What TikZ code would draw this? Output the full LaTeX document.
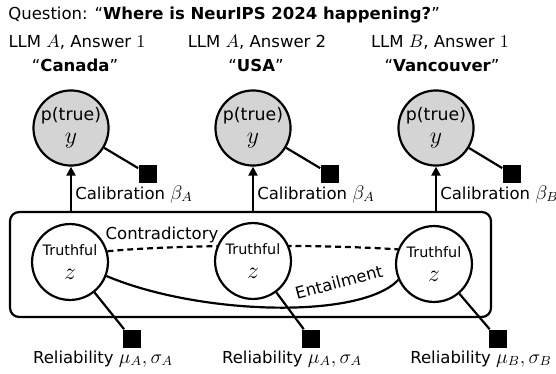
\documentclass[tikz,border=0pt]{standalone}
\usepackage[no-math]{fontspec}
\setmainfont{DejaVu Sans}
\usetikzlibrary{arrows.meta,backgrounds}
% math set a little larger than the surrounding sans text
\newcommand\mthsz[2]{{\fontsize{#1}{#1}\selectfont$#2$}}
\begin{document}
% one coordinate unit = 0.60606pt, so 10pt text is 16.5 units tall
\begin{tikzpicture}[x=0.60606pt,y=-0.60606pt,
  lbl/.style={font=\fontsize{10}{11.5}\selectfont, inner sep=0pt},
  obsnode/.style={circle, draw, line width=1.33pt, fill=black!17, minimum size=45.5pt,
    inner sep=0pt, align=center, font=\fontsize{10.5}{14}\selectfont},
  latnode/.style={circle, draw, line width=1.33pt, fill=white, minimum size=46pt,
    inner sep=0pt, align=center, font=\fontsize{8.7}{14.2}\selectfont},
  factor/.style={rectangle, fill=black, minimum size=11.5pt, inner sep=0pt},
  link/.style={line width=1.33pt},
  arr/.style={line width=1.33pt, -{Triangle[width=5.5pt,length=5.5pt]}},
  dashlink/.style={line width=1.33pt, dash pattern=on 3.6pt off 2.4pt},
]
\useasboundingbox (0,0) rectangle (556,373);

% question
\node[lbl, anchor=base west] (question) at (8,19)
  {Question: “\textbf{Where is NeurIPS 2024 happening?}”};

% answer headers
\node[lbl, anchor=base] (h1) at (77,47) {LLM \mthsz{10.95}{A}, Answer \mthsz{10.95}{1}};
\node[lbl, anchor=base] (q1) at (75,71) {“\textbf{Canada}”};
\node[lbl, anchor=base] (h2) at (257,47) {LLM \mthsz{10.95}{A}, Answer 2};
\node[lbl, anchor=base] (q2) at (256,71) {“\textbf{USA}”};
\node[lbl, anchor=base] (h3) at (440,47) {LLM \mthsz{10.95}{B}, Answer \mthsz{10.95}{1}};
\node[lbl, anchor=base] (q3) at (442,71) {“\textbf{Vancouver}”};

% observed nodes
\node[obsnode] (y1) at (71,128) {p(true)\\\mthsz{14.4}{y}};
\node[obsnode] (y2) at (253,128) {p(true)\\\mthsz{14.4}{y}};
\node[obsnode] (y3) at (436,128) {p(true)\\\mthsz{14.4}{y}};

\node[factor] (fy1) at (148,174) {};
\node[factor] (fy2) at (330,174) {};
\node[factor] (fy3) at (512,174) {};

% plate around the latent nodes
\node[draw, line width=1.33pt, rounded corners=5.5pt, minimum width=291.5pt,
  minimum height=63.6pt, inner sep=0pt] (plate) at (250.5,264.5) {};

% latent nodes
\node[latnode] (z1) at (70,262) {Truthful\\\mthsz{14.4}{z}};
\node[latnode] (z2) at (253,261) {Truthful\\\mthsz{14.4}{z}};
\node[latnode] (z3) at (434,264) {Truthful\\\mthsz{14.4}{z}};

\node[factor] (fz1) at (132,339) {};
\node[factor] (fz2) at (311,339) {};
\node[factor] (fz3) at (498,339) {};

\begin{pgfonlayer}{background}
  \draw[dashlink] (z1.16) .. controls +(72,-7) and +(-72,-5) .. (z3.158);
  \draw[link] (z1.-21) .. controls +(92,39) and +(-38,40) .. (z3.204);
\end{pgfonlayer}

\node[lbl] (contra) at (162,235) {Contradictory};
\node[lbl, rotate=15] (entail) at (339,282) {Entailment};

% calibration arrows
\draw[arr] (y1 |- plate.north) -- (y1);
\draw[arr] (y2 |- plate.north) -- (y2);
\draw[arr] (y3 |- plate.north) -- (y3);
\node[lbl, anchor=base west] (c1) at (75,199) {Calibration \mthsz{12}{\beta_A}};
\node[lbl, anchor=base west] (c2) at (257,199) {Calibration \mthsz{12}{\beta_A}};
\node[lbl, anchor=base west] (c3) at (440,199) {Calibration \mthsz{12}{\beta_B}};

% factor links
\draw[link] (y1) -- (fy1);
\draw[link] (y2) -- (fy2);
\draw[link] (y3) -- (fy3);
\draw[link] (z1) -- (fz1);
\draw[link] (z2) -- (fz2);
\draw[link] (z3) -- (fz3);

% reliability labels
\node[lbl, anchor=base] (r1) at (103,363) {Reliability \mthsz{12}{\mu_A,\sigma_A}};
\node[lbl, anchor=base] (r2) at (292,363) {Reliability \mthsz{12}{\mu_A,\sigma_A}};
\node[lbl, anchor=base] (r3) at (481,363) {Reliability \mthsz{12}{\mu_B,\sigma_B}};
\end{tikzpicture}
\end{document}
